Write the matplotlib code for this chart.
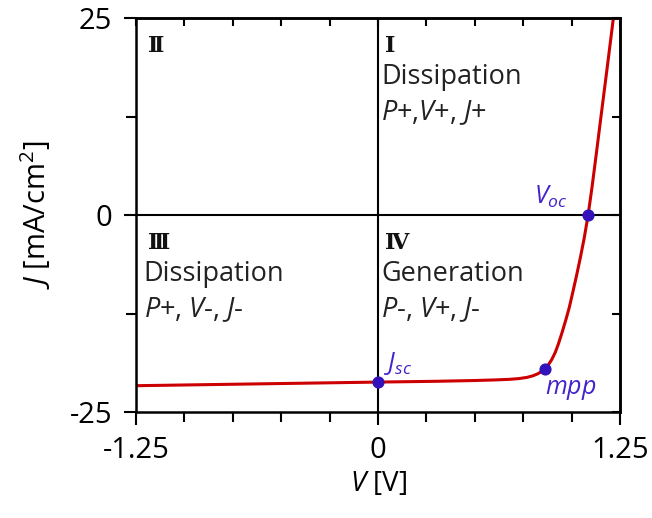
import matplotlib
matplotlib.use('Agg')
import matplotlib.pyplot as plt
from matplotlib.ticker import MultipleLocator

plt.rcParams['font.family'] = ['Open Sans', 'DejaVu Sans']
plt.rcParams['mathtext.fontset'] = 'custom'
plt.rcParams['mathtext.it'] = 'Open Sans:italic'
plt.rcParams['mathtext.rm'] = 'Open Sans'

# J-V curve
voltage = [-1.25, 0.0, 0.3, 0.5, 0.6, 0.68, 0.73, 0.77, 0.80, 0.825, 0.845, 0.862,
           0.88, 0.897, 0.915, 0.931, 0.95, 0.97, 0.987, 1.005, 1.026, 1.045, 1.065,
           1.085, 1.105, 1.128, 1.152, 1.183, 1.215, 1.23]
current = [-21.66, -21.2, -21.1, -21.0, -20.93, -20.85, -20.75, -20.6, -20.4, -20.15, -19.85, -19.5,
           -19.0, -18.35, -17.45, -16.4, -14.95, -13.3, -11.8, -9.9, -7.6, -5.4, -2.9,
           0.0, 3.5, 7.9, 12.6, 18.6, 24.9, 27.8]

point_names = ['$J_{sc}$', '$mpp$', '$V_{oc}$']
point_v = [0.0, 0.862, 1.085]
point_j = [-21.2, -19.5, 0.0]

quadrants = ['\u2161', '\u2160', '\u2162', '\u2163']
quad_titles = ['', 'Dissipation', 'Dissipation', 'Generation']
quad_signs = ['', '$P$+,$V$+, $J$+', '$P$+, $V$-, $J$-', '$P$-, $V$+, $J$-']

red = '#cc0000'
blue = '#3311bb'
label_blue = '#4422cc'

fig = plt.figure(figsize=(6.52, 5.18), dpi=100)
ax = fig.add_axes([0.2086, 0.2046, 0.951 - 0.2086, 0.965 - 0.2046])

ax.axhline(0, color='black', lw=1.5, zorder=1)
ax.axvline(0, color='black', lw=1.5, zorder=1)

ax.plot(voltage, current, color=red, lw=2.2, zorder=2)
ax.scatter(point_v, point_j, s=60, color=blue, zorder=3)

ax.annotate(point_names[0], (point_v[0], point_j[0]), xytext=(4, 4), textcoords='offset points',
            color=label_blue, fontsize=18, ha='left', va='bottom')
ax.annotate(point_names[1], (point_v[1], point_j[1]), xytext=(0, -6), textcoords='offset points',
            color=label_blue, fontsize=18, ha='left', va='top')
ax.annotate(point_names[2], (point_v[2], point_j[2]), xytext=(-15, 4), textcoords='offset points',
            color=label_blue, fontsize=18, ha='right', va='bottom')

# quadrant labels
qx = [-1.19, 0.035, -1.19, 0.035]
qy = [22.8, 22.8, -2.2, -2.2]
for i in range(4):
    ax.text(qx[i], qy[i], quadrants[i], family=['DejaVu Serif'], fontweight='bold',
            fontsize=16, ha='left', va='top', color='#111111')
    if quad_titles[i]:
        ax.text(qx[i] - 0.02, qy[i] - 3.5, quad_titles[i], fontsize=19.5, ha='left', va='top', color='#222222')
        ax.text(qx[i] - 0.02, qy[i] - 8.0, quad_signs[i], fontsize=19.5, ha='left', va='top', color='#222222')

ax.set_xlim(-1.25, 1.25)
ax.set_ylim(-25, 25)
ax.set_xticks([-1.25, 0, 1.25])
ax.set_xticklabels(['-1.25', '0', '1.25'])
ax.set_yticks([-25, 0, 25])
ax.set_yticklabels(['-25', '0', '25'])
ax.xaxis.set_minor_locator(MultipleLocator(0.25))
ax.yaxis.set_minor_locator(MultipleLocator(12.5))
ax.tick_params(which='both', direction='out', labelsize=21, width=1.5, pad=8)
ax.tick_params(which='major', length=9)
ax.tick_params(which='minor', length=7)

top = ax.secondary_xaxis('top')
top.set_xticks([-1.25, 0, 1.25])
top.xaxis.set_minor_locator(MultipleLocator(0.25))
top.tick_params(which='both', direction='in', labeltop=False, width=1.5, length=6)
right = ax.secondary_yaxis('right')
right.set_yticks([-25, 0, 25])
right.yaxis.set_minor_locator(MultipleLocator(12.5))
right.tick_params(which='both', direction='in', labelright=False, width=1.5, length=6)

for sp in list(ax.spines.values()) + [top.spines['top'], right.spines['right']]:
    sp.set_linewidth(1.8)

ax.set_xlabel('$V$ [V]', fontsize=20, labelpad=4)
ax.set_ylabel('$J$ [mA/cm$^{\\mathrm{2}}$]', fontsize=21, labelpad=12)

fig.savefig('out.png', dpi=100)
